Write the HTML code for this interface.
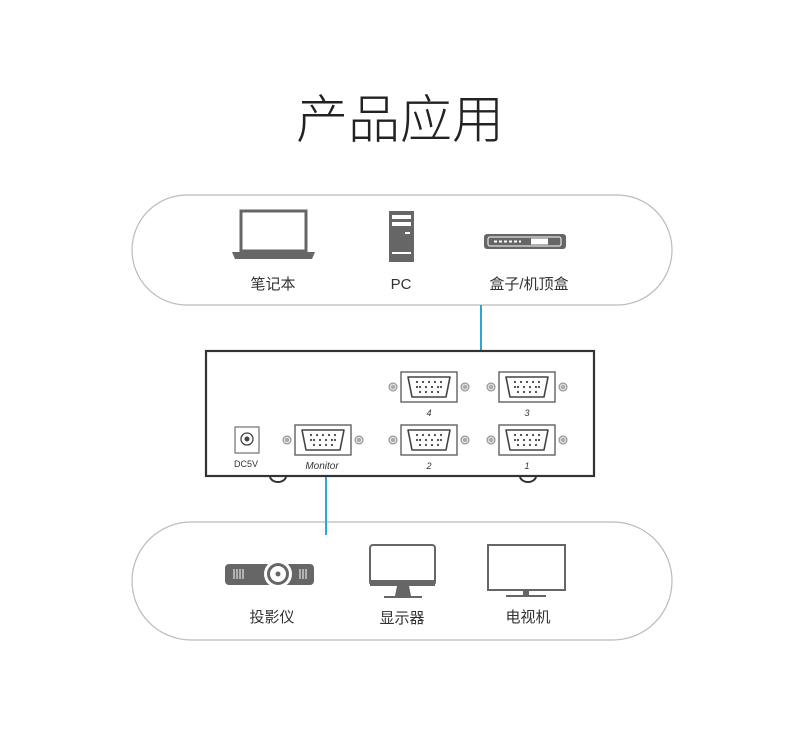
<!DOCTYPE html>
<html><head><meta charset="utf-8"><style>
body{margin:0;background:#fff;}
svg{display:block;font-family:"Liberation Sans","Noto Sans CJK SC",sans-serif;}
</style></head><body>
<svg width="800" height="741" viewBox="0 0 800 741">
<defs>
<g id="vga">
 <rect x="-28" y="-15" width="56" height="30" fill="#fff" stroke="#555" stroke-width="1.3"/>
 <path d="M-21,-10 H21 L17,10 H-17 Z" fill="#fff" stroke="#444" stroke-width="1.6" stroke-linejoin="round"/>
 <g fill="#444">
  <circle cx="-12" cy="-5" r="1.1"/><circle cx="-6" cy="-5" r="1.1"/><circle cx="0" cy="-5" r="1.1"/><circle cx="6" cy="-5" r="1.1"/><circle cx="12" cy="-5" r="1.1"/>
  <circle cx="-9" cy="0" r="1.1"/><circle cx="-3" cy="0" r="1.1"/><circle cx="3" cy="0" r="1.1"/><circle cx="9" cy="0" r="1.1"/><circle cx="-12" cy="0" r="1.1"/><circle cx="12" cy="0" r="1.1"/>
  <circle cx="-9" cy="5" r="1.1"/><circle cx="-3" cy="5" r="1.1"/><circle cx="3" cy="5" r="1.1"/><circle cx="9" cy="5" r="1.1"/>
 </g>
 <circle cx="-36" cy="0" r="4" fill="#ddd" stroke="#888"/><circle cx="-36" cy="0" r="2" fill="#aaa"/>
 <circle cx="36" cy="0" r="4" fill="#ddd" stroke="#888"/><circle cx="36" cy="0" r="2" fill="#aaa"/>
</g>
</defs>
<text x="400" y="138" font-size="52" text-anchor="middle" fill="#222" font-weight="300">产品应用</text>

<rect x="132" y="195" width="540" height="110" rx="55" fill="#fff" stroke="#bbb" stroke-width="1.2"/>
<rect x="132" y="522" width="540" height="118" rx="59" fill="#fff" stroke="#bbb" stroke-width="1.2"/>

<line x1="481" y1="305" x2="481" y2="365" stroke="#2aa7d6" stroke-width="2"/>
<line x1="326" y1="470" x2="326" y2="535" stroke="#2aa7d6" stroke-width="2"/>

<!-- laptop -->
<rect x="241" y="211" width="65" height="40" fill="#fff" stroke="#666" stroke-width="3"/>
<path d="M232,252 H315 L312,259 H235 Z" fill="#666"/>
<!-- PC -->
<rect x="389" y="211" width="25" height="51" fill="#666"/>
<rect x="392" y="215" width="19" height="4" fill="#fff"/><rect x="392" y="222" width="19" height="4" fill="#fff"/>
<rect x="405" y="232" width="5" height="2" fill="#fff"/><rect x="392" y="252" width="19" height="2" fill="#fff"/>
<!-- STB -->
<rect x="484" y="234" width="82" height="15" rx="3" fill="#666"/>
<rect x="488" y="237" width="73" height="9" rx="2" fill="#666" stroke="#fff" stroke-width="1"/>
<rect x="531" y="238.5" width="17" height="6" fill="#fff"/>
<line x1="494" y1="241.5" x2="521" y2="241.5" stroke="#fff" stroke-width="2" stroke-dasharray="3 2"/>
<text x="273" y="289" font-size="15" text-anchor="middle" fill="#333">笔记本</text>
<text x="401" y="289" font-size="15" text-anchor="middle" fill="#333">PC</text>
<text x="529" y="289" font-size="15" text-anchor="middle" fill="#333">盒子/机顶盒</text>

<!-- device box -->
<path d="M270,476 a8,6 0 0 0 16,0" fill="none" stroke="#333" stroke-width="2"/>
<path d="M520,476 a8,6 0 0 0 16,0" fill="none" stroke="#333" stroke-width="2"/>
<rect x="206" y="351" width="388" height="125" fill="#fff" stroke="#333" stroke-width="2.2"/>
<use href="#vga" x="429" y="387"/><use href="#vga" x="527" y="387"/>
<use href="#vga" x="323" y="440"/><use href="#vga" x="429" y="440"/><use href="#vga" x="527" y="440"/>
<text x="429" y="416" font-size="9" font-style="italic" text-anchor="middle" fill="#333">4</text>
<text x="527" y="416" font-size="9" font-style="italic" text-anchor="middle" fill="#333">3</text>
<text x="429" y="469" font-size="9" font-style="italic" text-anchor="middle" fill="#333">2</text>
<text x="527" y="469" font-size="9" font-style="italic" text-anchor="middle" fill="#333">1</text>
<text x="322" y="469" font-size="10" font-style="italic" text-anchor="middle" fill="#333">Monitor</text>
<rect x="235" y="427" width="24" height="26" fill="#fff" stroke="#555"/>
<circle cx="247" cy="439" r="6" fill="#fff" stroke="#444" stroke-width="1.3"/><circle cx="247" cy="439" r="2.5" fill="#444"/>
<text x="246" y="467" font-size="9" text-anchor="middle" fill="#333">DC5V</text>

<!-- projector -->
<rect x="225" y="564" width="89" height="21" rx="4" fill="#666"/>
<circle cx="278" cy="574" r="14" fill="#fff"/><circle cx="278" cy="574" r="11" fill="#666"/><circle cx="278" cy="574" r="8" fill="#fff"/><circle cx="278" cy="574" r="2.5" fill="#666"/>
<g stroke="#fff" stroke-width="1"><line x1="234" y1="569" x2="234" y2="579"/><line x1="237" y1="569" x2="237" y2="579"/><line x1="240" y1="569" x2="240" y2="579"/><line x1="243" y1="569" x2="243" y2="579"/>
<line x1="300" y1="569" x2="300" y2="579"/><line x1="303" y1="569" x2="303" y2="579"/><line x1="306" y1="569" x2="306" y2="579"/></g>
<!-- monitor -->
<rect x="370" y="545" width="65" height="40" rx="3" fill="#fff" stroke="#666" stroke-width="2"/>
<rect x="370" y="580" width="65" height="6" fill="#666"/>
<path d="M397,586 H409 L411,596 H395 Z" fill="#666"/><rect x="384" y="596" width="38" height="2" fill="#666"/>
<!-- TV -->
<rect x="488" y="545" width="77" height="45" fill="#fff" stroke="#666" stroke-width="2"/>
<rect x="523" y="590" width="6" height="5" fill="#666"/><rect x="506" y="595" width="40" height="2" fill="#666"/>
<text x="272" y="622" font-size="15" text-anchor="middle" fill="#333">投影仪</text>
<text x="402" y="623" font-size="15" text-anchor="middle" fill="#333">显示器</text>
<text x="528" y="622" font-size="15" text-anchor="middle" fill="#333">电视机</text>
</svg>
</body></html>
